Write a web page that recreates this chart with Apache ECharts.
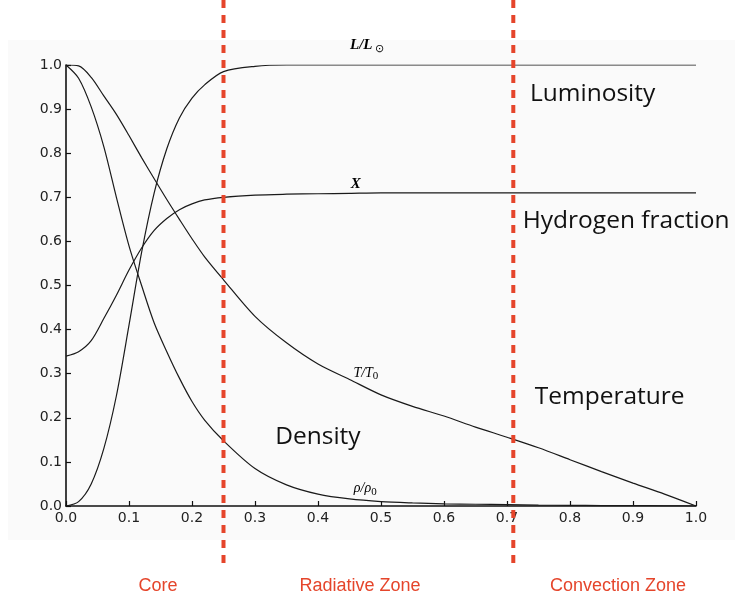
<!DOCTYPE html>
<html>
<head>
<meta charset="utf-8">
<script src="https://cdn.jsdelivr.net/npm/echarts@6/dist/echarts.min.js"></script>
<style>
  html, body { margin: 0; padding: 0; background: #ffffff; }
  #chart { width: 735px; height: 601px; }
</style>
</head>
<body>
<div id="chart"></div>
<script>
// Fractional radius r/R of the Sun
const radius = [0, 0.02, 0.04, 0.06, 0.08, 0.10, 0.12, 0.14, 0.16, 0.18, 0.20, 0.22, 0.25,
  0.30, 0.35, 0.40, 0.45, 0.50, 0.55, 0.60, 0.65, 0.70, 0.75, 0.80, 0.85, 0.90, 0.95, 1.00];

// L / L_sun
const luminosity = [0, 0.01, 0.05, 0.13, 0.25, 0.41, 0.575, 0.71, 0.81, 0.88, 0.925, 0.955, 0.985,
  0.997, 1, 1, 1, 1, 1, 1, 1, 1, 1, 1, 1, 1, 1, 1];

// Hydrogen mass fraction X
const hydrogen = [0.34, 0.35, 0.375, 0.425, 0.478, 0.535, 0.585, 0.625, 0.652, 0.672, 0.685, 0.694, 0.70,
  0.705, 0.707, 0.708, 0.709, 0.71, 0.71, 0.71, 0.71, 0.71, 0.71, 0.71, 0.71, 0.71, 0.71, 0.71];

// T / T_0
const temperature = [1.0, 0.998, 0.972, 0.93, 0.888, 0.84, 0.79, 0.742, 0.695, 0.65, 0.606, 0.565, 0.513,
  0.43, 0.37, 0.322, 0.287, 0.252, 0.226, 0.204, 0.179, 0.156, 0.132, 0.105, 0.078, 0.052, 0.027, 0.0];

// rho / rho_0
const density = [1.0, 0.97, 0.905, 0.815, 0.70, 0.59, 0.50, 0.415, 0.35, 0.29, 0.237, 0.195, 0.148,
  0.085, 0.048, 0.027, 0.016, 0.010, 0.007, 0.005, 0.004, 0.003, 0.002, 0.0015, 0.001, 0.001, 0.0005, 0];

// Zone boundaries (r/R)
const zoneBounds = [0.25, 0.71];
const zoneNames = ['Core', 'Radiative Zone', 'Convection Zone'];

const pairs = (vals) => radius.map((r, i) => [r, vals[i]]);

const chart = echarts.init(document.getElementById('chart'), null, { renderer: 'canvas' });

const axisCommon = {
  type: 'value',
  min: 0,
  max: 1,
  interval: 0.1,
  axisLine: { show: true, onZero: false, lineStyle: { color: '#111', width: 1.6 } },
  axisTick: { show: true, inside: true, length: 5, lineStyle: { color: '#111', width: 1.2 } },
  splitLine: { show: false },
  axisLabel: {
    color: '#222',
    fontFamily: 'DejaVu Sans, sans-serif',
    fontSize: 14,
    formatter: (v) => v.toFixed(1)
  }
};

function curve(name, vals) {
  return {
    name: name,
    type: 'line',
    data: pairs(vals),
    smooth: 0.3,
    symbol: 'none',
    lineStyle: { color: '#1a1a1a', width: 1.2 },
    z: 3
  };
}

chart.setOption({
  animation: false,
  backgroundColor: '#ffffff',
  grid: { left: 66, right: 39, top: 65, bottom: 95, containLabel: false },
  xAxis: Object.assign({}, axisCommon, { axisLabel: Object.assign({}, axisCommon.axisLabel, { margin: 5 }) }),
  yAxis: Object.assign({}, axisCommon, { axisLabel: Object.assign({}, axisCommon.axisLabel, { margin: 4 }) }),
  series: [
    curve('L/L⊙', luminosity),
    curve('X', hydrogen),
    curve('T/T0', temperature),
    curve('ρ/ρ0', density)
  ]
});

const px = (x, y) => chart.convertToPixel({ gridIndex: 0 }, [x, y]);

const serifLabel = {
  a: { fontFamily: 'Liberation Serif, serif', fontStyle: 'italic', fontWeight: 'bold', fontSize: 15, color: '#222' },
  n: { fontFamily: 'Liberation Serif, serif', fontStyle: 'italic', fontSize: 14, color: '#222' },
  s: { fontFamily: 'Liberation Serif, serif', fontSize: 11, color: '#222', verticalAlign: 'bottom', padding: [7, 0, 0, 0] }
};

function curveLabel(text, x, y) {
  const p = px(x, y);
  return {
    type: 'text', x: p[0], y: p[1], z: 10,
    style: { text: text, rich: serifLabel, align: 'center', verticalAlign: 'middle' }
  };
}

function bigLabel(text, x, y) {
  const p = px(x, y);
  return {
    type: 'text', x: p[0], y: p[1], z: 10,
    style: {
      text: text, fill: '#111', fontFamily: 'Open Sans, Noto Sans, sans-serif',
      fontSize: 24.5, align: 'left', verticalAlign: 'middle'
    }
  };
}

const graphics = [];

// Scanned-figure backdrop
graphics.push({
  type: 'rect', z: -10, silent: true,
  shape: { x: 8, y: 40, width: 727, height: 500 },
  style: { fill: '#fafafa' }
});

// Zone boundary lines, running past the plot area
zoneBounds.forEach((b) => {
  const x = px(b, 0)[0];
  graphics.push({
    type: 'line', z: 20,
    shape: { x1: x, y1: 0, x2: x, y2: 570 },
    style: { stroke: '#e5452b', lineWidth: 4, lineDash: [8, 7] }
  });
});

// Curve identifiers
graphics.push(curveLabel('{a|L/L}{s| ⊙}', 0.478, 1.045));
graphics.push(curveLabel('{a|X}', 0.46, 0.73));
graphics.push(curveLabel('{n|T/T}{s|0}', 0.476, 0.302));
graphics.push(curveLabel('{n|ρ/ρ}{s|0}', 0.475, 0.04));

// Quantity names
graphics.push(bigLabel('Luminosity', 0.7365, 0.934));
graphics.push(bigLabel('Hydrogen fraction', 0.725, 0.646));
graphics.push(bigLabel('Temperature', 0.744, 0.247));
graphics.push(bigLabel('Density', 0.332, 0.156));

// Zone names below the axis
const zoneCenters = [158, 360, 618];
zoneNames.forEach((n, i) => {
  graphics.push({
    type: 'text', x: zoneCenters[i], y: 586, z: 10,
    style: {
      text: n, fill: '#e5452b', fontFamily: 'Liberation Sans Narrow, Arial Narrow, Liberation Sans, sans-serif',
      fontSize: 18, align: 'center', verticalAlign: 'middle'
    }
  });
});

chart.setOption({ graphic: graphics });
</script>
</body>
</html>
